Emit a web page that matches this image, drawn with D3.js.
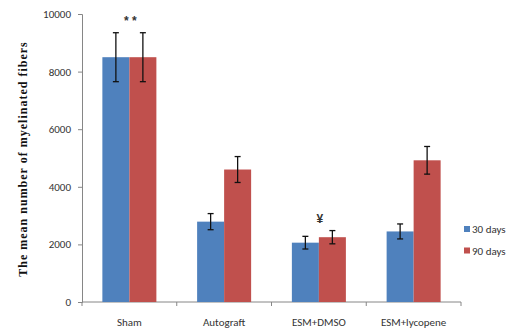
<!DOCTYPE html>
<html>
<head>
<meta charset="utf-8">
<script src="https://cdn.jsdelivr.net/npm/d3@7"></script>
<style>
  body { margin: 0; background: #fff; }
  svg { display: block; }
  .axis path, .axis line { stroke: #868686; }
  .axis text { fill: #333; font-family: Carlito, "Liberation Sans", sans-serif; font-size: 11px; }
</style>
</head>
<body>
<div id="chart"></div>
<script>
const groups = ['Sham', 'Autograft', 'ESM+DMSO', 'ESM+lycopene'];
const seriesNames = ['30 days', '90 days'];
const means30 = [8500, 2790, 2060, 2450];
const means90 = [8500, 4600, 2250, 4920];
const err30 = [850, 280, 220, 260];
const err90 = [850, 450, 230, 480];
const marks = [['Sham', '* *'], ['ESM+DMSO', '¥']];
const yTicks = [0, 2000, 4000, 6000, 8000, 10000];

const colors = ['#4f81bd', '#c0504d'];
const width = 520;
const height = 331;
const margin = { top: 14, right: 59, bottom: 29, left: 82 };
const innerW = width - margin.left - margin.right;
const innerH = height - margin.top - margin.bottom;

const svg = d3.select('#chart').append('svg')
  .attr('width', width)
  .attr('height', height);

const chart = svg.append('g')
  .attr('transform', `translate(${margin.left},${margin.top})`);

const x = d3.scaleBand().domain(groups).range([0, innerW]);
const xSub = d3.scaleBand().domain(seriesNames)
  .range([x.bandwidth() * 0.215, x.bandwidth() * 0.785]);
const y = d3.scaleLinear().domain([0, 10000]).range([innerH, 0]);

const rows = groups.map((g, i) => ({
  group: g,
  values: [
    { s: seriesNames[0], v: means30[i], e: err30[i], c: colors[0] },
    { s: seriesNames[1], v: means90[i], e: err90[i], c: colors[1] },
  ],
}));

// y axis
chart.append('g').attr('class', 'axis')
  .call(d3.axisLeft(y).tickValues(yTicks).tickSize(4).tickPadding(7).tickFormat(d3.format('d')));

// x axis with ticks at band edges
const xAxis = chart.append('g').attr('class', 'axis')
  .attr('transform', `translate(0,${innerH})`);
xAxis.append('line').attr('x1', 0).attr('x2', innerW).attr('y1', 0).attr('y2', 0);
xAxis.selectAll('.edge')
  .data(groups.map((g) => x(g)).concat([innerW]))
  .join('line')
  .attr('x1', (d) => d).attr('x2', (d) => d)
  .attr('y1', 0).attr('y2', 4);
xAxis.selectAll('text')
  .data(groups)
  .join('text')
  .attr('x', (d) => x(d) + x.bandwidth() / 2)
  .attr('y', 24)
  .attr('text-anchor', 'middle')
  .text((d) => d);

// bars
const grp = chart.selectAll('.grp')
  .data(rows)
  .join('g')
  .attr('transform', (d) => `translate(${x(d.group)},0)`);

grp.selectAll('rect')
  .data((d) => d.values)
  .join('rect')
  .attr('x', (d) => xSub(d.s))
  .attr('y', (d) => y(d.v))
  .attr('width', xSub.bandwidth())
  .attr('height', (d) => innerH - y(d.v))
  .attr('fill', (d) => d.c);

// error bars
const eb = grp.selectAll('.err')
  .data((d) => d.values)
  .join('g')
  .attr('transform', (d) => `translate(${xSub(d.s) + xSub.bandwidth() / 2},0)`);
eb.append('line')
  .attr('y1', (d) => y(d.v + d.e)).attr('y2', (d) => y(d.v - d.e))
  .attr('stroke', '#111').attr('stroke-width', 1.3);
eb.selectAll('.cap')
  .data((d) => [d.v + d.e, d.v - d.e])
  .join('line')
  .attr('x1', -3).attr('x2', 3)
  .attr('y1', (d) => y(d)).attr('y2', (d) => y(d))
  .attr('stroke', '#111').attr('stroke-width', 1.3);

// significance marks
marks.forEach(([g, m]) => {
  const i = groups.indexOf(g);
  const top = Math.max(means30[i] + err30[i], means90[i] + err90[i]);
  chart.append('text')
    .attr('x', x(g) + x.bandwidth() / 2 + 1)
    .attr('y', y(top) - 8)
    .attr('text-anchor', 'middle')
    .style('font-family', '"Liberation Sans", sans-serif')
    .style('font-size', '12px')
    .style('font-weight', 'bold')
    .style('fill', '#333')
    .text(m);
});

// y title
svg.append('text')
  .attr('transform', `translate(27,${margin.top + innerH / 2 + 1}) rotate(-90)`)
  .attr('text-anchor', 'middle')
  .style('font-family', '"Liberation Serif", serif')
  .style('font-weight', 'bold')
  .style('font-size', '12px')
  .style('letter-spacing', '1px')
  .style('fill', '#111')
  .text('The mean number of myelinated fibers');

// legend
const legend = svg.append('g').attr('transform', 'translate(464,229)');
const item = legend.selectAll('g')
  .data(seriesNames)
  .join('g')
  .attr('transform', (d, i) => `translate(0,${i * 21.5})`);
item.append('rect').attr('width', 6).attr('height', 6).attr('y', -3)
  .attr('fill', (d, i) => colors[i]);
item.append('text').attr('x', 8).attr('y', 4)
  .style('font-family', 'Carlito, "Liberation Sans", sans-serif')
  .style('font-size', '11px')
  .style('fill', '#333')
  .text((d) => d);
</script>
</body>
</html>
